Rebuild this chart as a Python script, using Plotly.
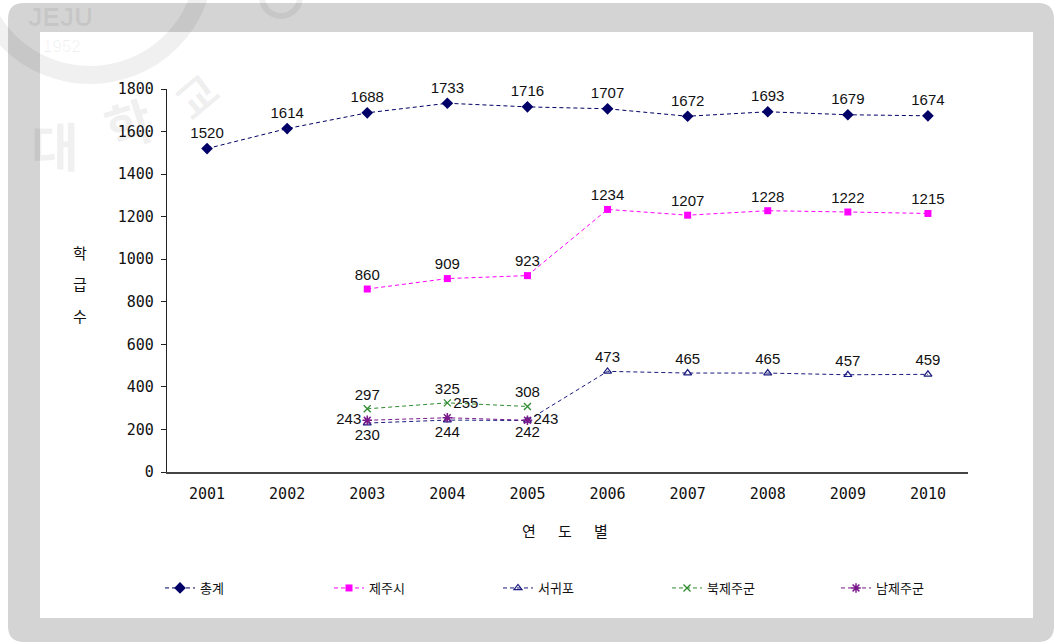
import plotly.graph_objects as go

# ---- data ----
years = ["2001", "2002", "2003", "2004", "2005", "2006", "2007", "2008", "2009", "2010"]

total_vals = [1520, 1614, 1688, 1733, 1716, 1707, 1672, 1693, 1679, 1674]

jeju_years = ["2003", "2004", "2005", "2006", "2007", "2008", "2009", "2010"]
jeju_vals = [860, 909, 923, 1234, 1207, 1228, 1222, 1215]

seogwipo_years = ["2003", "2004", "2005", "2006", "2007", "2008", "2009", "2010"]
seogwipo_vals = [230, 244, 242, 473, 465, 465, 457, 459]

bukjeju_years = ["2003", "2004", "2005"]
bukjeju_vals = [297, 325, 308]

namjeju_years = ["2003", "2004", "2005"]
namjeju_vals = [243, 255, 243]

series_names = ["총계", "제주시", "서귀포", "북제주군", "남제주군"]

# ---- page geometry (pixels) ----
W, H = 1062, 643
L, R, T, B = 167, 968, 89, 472   # plot area edges


def px_x(px):
    return (px - L) / (R - L)


def px_y(py):
    return (B - py) / (B - T)


def rounded_rect(x0, y0, x1, y1, r):
    """SVG path of a rounded rectangle given in pixels, expressed in paper units."""
    pts = []
    pts.append(f"M {px_x(x0 + r)},{px_y(y0)}")
    pts.append(f"L {px_x(x1 - r)},{px_y(y0)}")
    pts.append(f"Q {px_x(x1)},{px_y(y0)} {px_x(x1)},{px_y(y0 + r)}")
    pts.append(f"L {px_x(x1)},{px_y(y1 - r)}")
    pts.append(f"Q {px_x(x1)},{px_y(y1)} {px_x(x1 - r)},{px_y(y1)}")
    pts.append(f"L {px_x(x0 + r)},{px_y(y1)}")
    pts.append(f"Q {px_x(x0)},{px_y(y1)} {px_x(x0)},{px_y(y1 - r)}")
    pts.append(f"L {px_x(x0)},{px_y(y0 + r)}")
    pts.append(f"Q {px_x(x0)},{px_y(y0)} {px_x(x0 + r)},{px_y(y0)}")
    pts.append("Z")
    return " ".join(pts)


LABEL_FONT = dict(family="Liberation Sans Narrow, Arial Narrow, Liberation Sans, Arial",
                  size=15, color="#111111")
TICK_FONT = dict(family="DejaVu Sans Mono, Liberation Mono, monospace", size=15, color="#111111")
KR_FONT = "Noto Sans CJK KR, Noto Sans, sans-serif"
DASH = "4px,3px"

fig = go.Figure()

fig.add_trace(go.Scatter(
    x=years, y=total_vals, name=series_names[0], mode="lines+markers+text",
    line=dict(color="#000066", width=1, dash=DASH),
    marker=dict(symbol="diamond", size=9, color="#000066"),
    text=[str(v) for v in total_vals], textposition="top center",
    textfont=LABEL_FONT, cliponaxis=False,
))

fig.add_trace(go.Scatter(
    x=jeju_years, y=jeju_vals, name=series_names[1], mode="lines+markers+text",
    line=dict(color="#FF00FF", width=1, dash=DASH),
    marker=dict(symbol="square", size=7, color="#FF00FF"),
    text=[str(v) for v in jeju_vals], textposition="top center",
    textfont=LABEL_FONT, cliponaxis=False,
))

fig.add_trace(go.Scatter(
    x=seogwipo_years, y=seogwipo_vals, name=series_names[2], mode="lines+markers+text",
    line=dict(color="#1a1a80", width=1, dash=DASH),
    marker=dict(symbol="triangle-up-open", size=7, color="#1a1a80", line=dict(width=1.2)),
    text=[str(v) for v in seogwipo_vals],
    textposition=["bottom center"] * 3 + ["top center"] * 5,
    textfont=LABEL_FONT, cliponaxis=False,
))

fig.add_trace(go.Scatter(
    x=bukjeju_years, y=bukjeju_vals, name=series_names[3], mode="lines+markers+text",
    line=dict(color="#2e8b2e", width=1, dash=DASH),
    marker=dict(symbol="x-thin-open", size=7, color="#2e8b2e", line=dict(width=1.3, color="#2e8b2e")),
    text=[str(v) for v in bukjeju_vals], textposition="top center",
    textfont=LABEL_FONT, cliponaxis=False,
))

fig.add_trace(go.Scatter(
    x=namjeju_years, y=namjeju_vals, name=series_names[4], mode="lines+markers+text",
    line=dict(color="#7a1a8a", width=1, dash=DASH),
    marker=dict(symbol="asterisk-open", size=8, color="#7a1a8a", line=dict(width=1.5, color="#7a1a8a")),
    text=[str(v) for v in namjeju_vals],
    textposition=["middle left", "top right", "middle right"],
    textfont=LABEL_FONT, cliponaxis=False,
))

# ---- frame: grey rounded border with white panel ----
shapes = [
    dict(type="path", xref="paper", yref="paper", layer="below",
         path=rounded_rect(8, 3, 1054, 642, 16),
         fillcolor="#d4d4d4", line=dict(width=0)),
    dict(type="rect", xref="paper", yref="paper", layer="below",
         x0=px_x(40), x1=px_x(1033), y0=px_y(32), y1=px_y(618),
         fillcolor="#ffffff", line=dict(width=0)),
    # faint emblem ring in the corner
    dict(type="circle", xref="paper", yref="paper", layer="below",
         x0=px_x(-25), x1=px_x(205), y0=px_y(-155), y1=px_y(75),
         line=dict(color="rgba(0,0,0,0.06)", width=18), fillcolor="rgba(0,0,0,0)"),
    dict(type="circle", xref="paper", yref="paper", layer="below",
         x0=px_x(262), x1=px_x(300), y0=px_y(-22), y1=px_y(16),
         line=dict(color="rgba(0,0,0,0.06)", width=6), fillcolor="rgba(0,0,0,0)"),
]

WM = "rgba(0,0,0,0.06)"
annotations = [
    # emblem lettering
    dict(text="<b>JEJU</b>", x=px_x(60), y=px_y(17), font=dict(family="Liberation Sans", size=26, color=WM)),
    dict(text="1952", x=px_x(62), y=px_y(46), font=dict(family="Liberation Sans", size=17, color=WM)),
    dict(text="<b>대</b>", x=px_x(55), y=px_y(145), font=dict(family=KR_FONT, size=52, color=WM)),
    dict(text="<b>학</b>", x=px_x(128), y=px_y(122), textangle=-18, font=dict(family=KR_FONT, size=50, color=WM)),
    dict(text="<b>교</b>", x=px_x(195), y=px_y(95), textangle=-40, font=dict(family=KR_FONT, size=44, color=WM)),
    # axis titles
    dict(text="학", x=px_x(80), y=px_y(252), font=dict(family=KR_FONT, size=15, color="#111")),
    dict(text="급", x=px_x(80), y=px_y(283), font=dict(family=KR_FONT, size=15, color="#111")),
    dict(text="수", x=px_x(80), y=px_y(315), font=dict(family=KR_FONT, size=15, color="#111")),
    dict(text="연", x=px_x(529), y=px_y(530), font=dict(family=KR_FONT, size=15, color="#111")),
    dict(text="도", x=px_x(565), y=px_y(530), font=dict(family=KR_FONT, size=15, color="#111")),
    dict(text="별", x=px_x(601), y=px_y(530), font=dict(family=KR_FONT, size=15, color="#111")),
]
for a in annotations:
    a.update(xref="paper", yref="paper", showarrow=False, xanchor="center", yanchor="middle")

fig.update_layout(
    width=W, height=H,
    margin=dict(l=L, r=W - R, t=T, b=H - B, pad=0),
    paper_bgcolor="#ffffff",
    plot_bgcolor="rgba(0,0,0,0)",
    shapes=shapes,
    annotations=annotations,
    showlegend=True,
    legend=dict(
        orientation="h", x=px_x(160), y=px_y(588), xanchor="left", yanchor="middle",
        entrywidth=124, entrywidthmode="pixels", itemwidth=30,
        font=dict(family=KR_FONT, size=13, color="#111"),
        bgcolor="rgba(0,0,0,0)", traceorder="normal",
    ),
    xaxis=dict(
        type="category", categoryorder="array", categoryarray=years,
        range=[-0.5, len(years) - 0.5],
        showline=True, linecolor="#444444", linewidth=1.5,
        ticks="", showgrid=False, zeroline=False,
        tickfont=TICK_FONT, ticklabelstandoff=7,
    ),
    yaxis=dict(
        range=[0, 1800], dtick=200, tick0=0,
        showline=True, linecolor="#222222", linewidth=1.2,
        ticks="outside", ticklen=5, tickcolor="#222222",
        showgrid=False, zeroline=False,
        tickfont=TICK_FONT, ticklabelstandoff=4,
    ),
)

fig.write_html("out.html")
